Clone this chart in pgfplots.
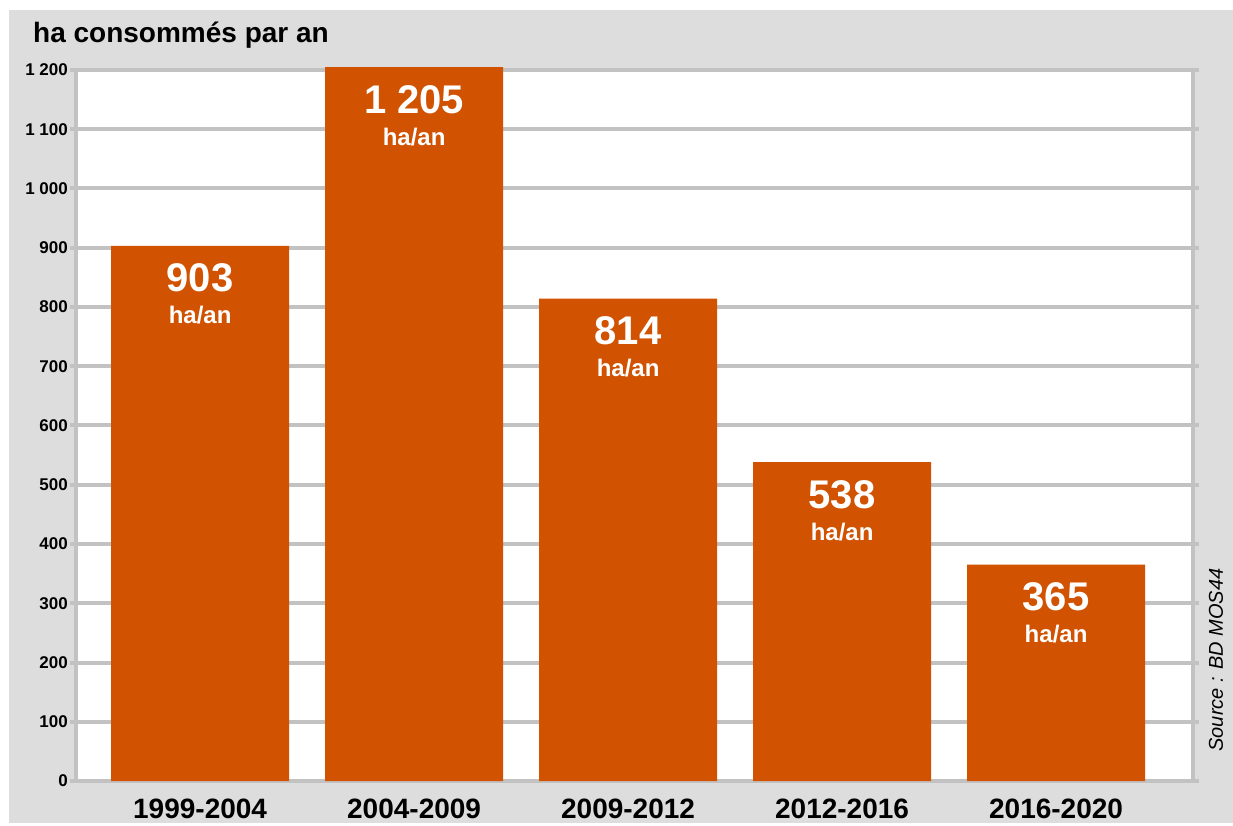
\documentclass[border=0pt]{standalone}
\usepackage{fontspec}
\setmainfont{Liberation Sans}
\usepackage{pgfplots}
\usepackage{pgfplotstable}
\pgfplotsset{compat=1.18}
\definecolor{panel}{HTML}{DDDDDD}
\definecolor{gridg}{HTML}{C2C2C2}
\definecolor{barc}{HTML}{D15200}
\pgfplotstableread[col sep=comma]{
x,y,lab
0,903,903
1,1205,1 205
2,814,814
3,538,538
4,365,365
}\data
\begin{document}
\begin{tikzpicture}[x=1pt,y=1pt]
\useasboundingbox (0,0) rectangle (1233,825);
\fill[white] (0,0) rectangle (1233,825);
\fill[panel] (9,2) rectangle (1233,815);
\node[anchor=base west, inner sep=0pt, font=\fontsize{28}{28}\selectfont\bfseries] at (33,782) {ha consommés par an};
\node[rotate=90, inner sep=0pt, font=\fontsize{20}{20}\selectfont\itshape] at (1216,165) {Source : BD MOS44};
\begin{axis}[at={(76pt,44pt)}, anchor=south west, scale only axis,
  width=1117pt, height=711pt,
  xmin=-0.58, xmax=4.64, ymin=0, ymax=1200,
  clip=false,
  axis background/.style={fill=white},
  axis line style={gridg, line width=4pt},
  ytick={0,100,...,1200},
  yticklabels={0,100,200,300,400,500,600,700,800,900,1 000,1 100,1 200},
  ymajorgrids, grid style={gridg, line width=4pt},
  ytick pos=both, yticklabel pos=left,
  tick align=outside, major tick length=6pt,
  ytick style={gridg, line width=4pt},
  xtick={0,1,2,3,4},
  xticklabels={1999-2004,2004-2009,2009-2012,2012-2016,2016-2020},
  xtick style={draw=none},
  yticklabel style={font=\fontsize{17}{17}\selectfont\bfseries, inner sep=0pt, xshift=-2pt},
  xticklabel style={font=\fontsize{28}{28}\selectfont\bfseries, anchor=base, inner sep=0pt, yshift=-31pt},
  ybar, bar width=178pt, bar shift=0pt,
  point meta=explicit symbolic,
]
\addplot[fill=barc, draw=none, nodes near coords,
  every node near coord/.style={anchor=base, yshift=-46pt, inner sep=0pt, text=white, font=\fontsize{40}{40}\selectfont\bfseries}]
  table[x=x,y=y,meta=lab]{\data};
\addplot[fill=none, draw=none, nodes near coords={ha/an},
  every node near coord/.style={anchor=base, yshift=-78pt, inner sep=0pt, text=white, font=\fontsize{24}{24}\selectfont\bfseries}]
  table[x=x,y=y,meta=lab]{\data};
\end{axis}
\end{tikzpicture}
\end{document}
